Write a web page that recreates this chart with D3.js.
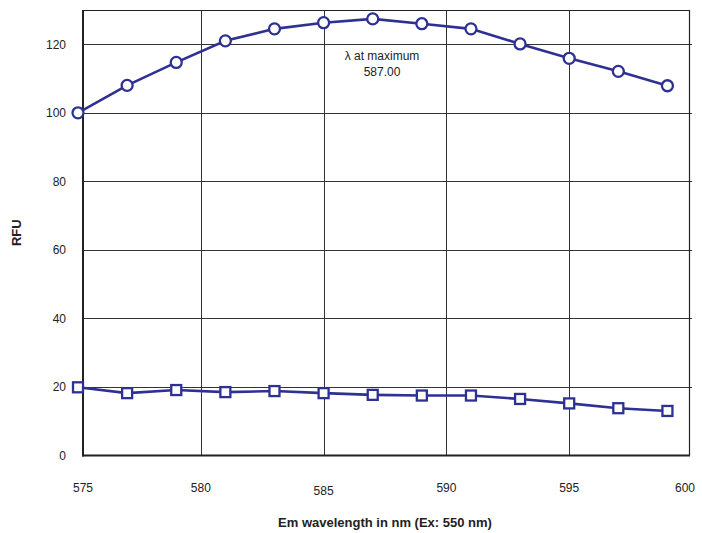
<!DOCTYPE html>
<html>
<head>
<meta charset="utf-8">
<script src="https://cdn.jsdelivr.net/npm/d3@7"></script>
<style>
  body { margin: 0; background: #fff; }
  svg { display: block; font-family: "Liberation Sans", Arial, sans-serif; }
</style>
</head>
<body>
<div id="chart"></div>
<script>
// Emission scan data
const wavelengths = [575, 577, 579, 581, 583, 585, 587, 589, 591, 593, 595, 597, 599];
const sampleRFU = [100, 108.0, 114.7, 121.0, 124.5, 126.3, 127.4, 126.0, 124.5, 120.1, 115.9, 112.1, 107.9];
const blankRFU = [19.9, 18.2, 19.1, 18.5, 18.8, 18.2, 17.7, 17.5, 17.5, 16.5, 15.2, 13.8, 13.0];
const xTicks = [575, 580, 585, 590, 595, 600];
const yTicks = [0, 20, 40, 60, 80, 100, 120];
const peakLabel = ["\u03bb at maximum", "587.00"];

const width = 702, height = 533;
const frame = { left: 83, right: 689, top: 10, bottom: 455.5 };
const blue = "#2e3192";

const svg = d3.select("#chart").append("svg")
    .attr("width", width)
    .attr("height", height);

const x = d3.scaleLinear().domain([575, 600]).range([78, 692]);
const y = d3.scaleLinear().domain([0, 130]).range([frame.bottom, frame.top]);

// Grid lines
const grid = svg.append("g").attr("stroke", "#333").attr("stroke-width", 1);
grid.selectAll("line.h")
    .data(yTicks.filter(d => d > 0))
    .join("line")
    .attr("x1", frame.left).attr("x2", frame.right + 3)
    .attr("y1", d => Math.round(y(d)) + 0.5).attr("y2", d => Math.round(y(d)) + 0.5);
grid.selectAll("line.v")
    .data(xTicks.filter(d => d > 575 && d < 600))
    .join("line")
    .attr("y1", frame.top).attr("y2", frame.bottom)
    .attr("x1", d => Math.round(x(d)) + 0.5).attr("x2", d => Math.round(x(d)) + 0.5);

// Frame: thin top/right, heavier left/bottom
svg.append("line").attr("x1", frame.left).attr("x2", frame.right + 0.5)
    .attr("y1", frame.top + 0.5).attr("y2", frame.top + 0.5)
    .attr("stroke", "#222").attr("stroke-width", 1.2);
svg.append("line").attr("x1", frame.right + 0.5).attr("x2", frame.right + 0.5)
    .attr("y1", frame.top).attr("y2", frame.bottom)
    .attr("stroke", "#222").attr("stroke-width", 1.2);
svg.append("line").attr("x1", frame.left).attr("x2", frame.left)
    .attr("y1", frame.top).attr("y2", frame.bottom + 1)
    .attr("stroke", "#222").attr("stroke-width", 2);
svg.append("line").attr("x1", frame.left - 1).attr("x2", frame.right + 1)
    .attr("y1", frame.bottom).attr("y2", frame.bottom)
    .attr("stroke", "#222").attr("stroke-width", 2);

// Tick labels
svg.append("g").selectAll("text")
    .data(yTicks)
    .join("text")
    .attr("x", 66)
    .attr("y", d => y(d) + 4.5)
    .attr("text-anchor", "end")
    .attr("font-size", 12)
    .attr("fill", "#222")
    .text(d => d);

svg.append("g").selectAll("text")
    .data(xTicks)
    .join("text")
    .attr("x", d => Math.min(Math.max(x(d), 83), 685))
    .attr("y", d => d === 585 ? 495 : 492)
    .attr("text-anchor", "middle")
    .attr("font-size", 12)
    .attr("fill", "#222")
    .text(d => d);

// Axis titles
svg.append("text")
    .attr("transform", `translate(21,${(frame.top + frame.bottom) / 2}) rotate(-90)`)
    .attr("text-anchor", "middle")
    .attr("font-size", 13)
    .attr("font-weight", "bold")
    .attr("fill", "#222")
    .text("RFU");

svg.append("text")
    .attr("x", 385)
    .attr("y", 527)
    .attr("text-anchor", "middle")
    .attr("font-size", 13)
    .attr("font-weight", "bold")
    .attr("fill", "#222")
    .text("Em wavelength in nm (Ex: 550 nm)");

// Series lines
const line = d3.line().x(d => x(d[0])).y(d => y(d[1]));
const sample = wavelengths.map((w, i) => [w, sampleRFU[i]]);
const blank = wavelengths.map((w, i) => [w, blankRFU[i]]);

[sample, blank].forEach(series => {
    svg.append("path")
        .datum(series)
        .attr("fill", "none")
        .attr("stroke", blue)
        .attr("stroke-width", 2.6)
        .attr("d", line);
});

// Markers
svg.append("g").selectAll("circle")
    .data(sample)
    .join("circle")
    .attr("cx", d => x(d[0]))
    .attr("cy", d => y(d[1]))
    .attr("r", 5.5)
    .attr("fill", "#fff")
    .attr("stroke", blue)
    .attr("stroke-width", 2.3);

svg.append("g").selectAll("rect")
    .data(blank)
    .join("rect")
    .attr("x", d => x(d[0]) - 5)
    .attr("y", d => y(d[1]) - 5)
    .attr("width", 10)
    .attr("height", 10)
    .attr("fill", "#fff")
    .attr("stroke", blue)
    .attr("stroke-width", 2.3);

// Peak annotation
svg.append("g").selectAll("text")
    .data(peakLabel)
    .join("text")
    .attr("x", 382)
    .attr("y", (d, i) => 60 + i * 16)
    .attr("text-anchor", "middle")
    .attr("font-size", 12)
    .attr("fill", "#222")
    .text(d => d);
</script>
</body>
</html>
